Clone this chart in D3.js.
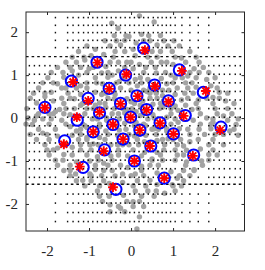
<!DOCTYPE html>
<html>
<head>
<meta charset="utf-8">
<script src="https://cdn.jsdelivr.net/npm/d3@7"></script>
<style>
  body { margin: 0; background: #fff; }
</style>
</head>
<body>
<svg id="chart" width="265" height="270"></svg>
<script>
// tick values
const xTicks = [-2, -1, 0, 1, 2];
const yTicks = [-2, -1, 0, 1, 2];

// constellation points (blue circles) and estimates (red stars)
const refPts = [
  [0.30, 1.63], [-0.81, 1.30], [1.15, 1.12], [-0.13, 1.00], [-1.42, 0.86], [0.56, 0.77],
  [1.72, 0.60], [-0.52, 0.69], [-1.02, 0.46], [0.14, 0.52], [0.89, 0.40], [-0.25, 0.34],
  [-2.05, 0.25], [-0.75, 0.12], [0.37, 0.20], [1.29, 0.06], [-1.28, -0.05], [-0.43, -0.15],
  [0.69, -0.11], [2.14, -0.21], [-0.01, 0.02], [0.21, -0.28], [1.01, -0.37], [-0.90, -0.32],
  [-1.58, -0.53], [-0.19, -0.49], [-0.63, -0.74], [0.47, -0.65], [0.08, -1.00], [1.49, -0.86],
  [-1.14, -1.15], [-0.36, -1.66], [0.79, -1.40]
];
const estPts = [
  [0.33, 1.58], [-0.80, 1.29], [1.21, 1.10], [-0.11, 1.02], [-1.38, 0.84], [0.57, 0.74],
  [1.78, 0.63], [-0.52, 0.68], [-1.02, 0.40], [0.16, 0.51], [0.89, 0.38], [-0.25, 0.33],
  [-2.05, 0.24], [-0.75, 0.14], [0.37, 0.19], [1.25, 0.05], [-1.29, 0.02], [-0.43, -0.15],
  [0.69, -0.12], [2.12, -0.28], [-0.01, 0.02], [0.21, -0.28], [1.01, -0.37], [-0.90, -0.32],
  [-1.60, -0.61], [-0.19, -0.49], [-0.65, -0.77], [0.45, -0.65], [0.08, -1.00], [1.47, -0.88],
  [-1.22, -1.13], [-0.43, -1.61], [0.79, -1.40]
];

// received samples (grey cloud), near each point
const samples = [
  [0.12, 1.75], [0.45, 1.80], [0.50, 1.55], [0.10, 1.45], [0.25, 1.95], [0.55, 2.24], [0.20, 2.38], [0.62, 1.70], [0.05, 1.60],
  [-0.46, 2.21], [-0.31, 2.09], [-0.15, 1.81], [-0.05, 1.90], [-0.25, 1.70],
  [-0.95, 1.45], [-0.65, 1.48], [-0.60, 1.20], [-1.00, 1.15], [-0.85, 1.60], [-0.70, 1.05], [-1.10, 1.35],
  [1.00, 1.25], [1.30, 1.30], [1.35, 0.98], [0.95, 1.00], [1.20, 1.40], [1.50, 1.15], [0.85, 1.30],
  [-0.30, 1.10], [0.05, 1.15], [0.10, 0.90], [-0.28, 0.85], [-0.10, 1.30], [0.20, 1.25], [-0.45, 1.00],
  [-1.60, 0.95], [-1.25, 1.00], [-1.20, 0.75], [-1.55, 0.70], [-1.75, 0.80], [-1.40, 1.10], [-1.90, 0.60],
  [0.40, 0.90], [0.72, 0.92], [0.75, 0.65], [0.38, 0.62], [0.60, 1.05], [0.85, 0.80],
  [1.55, 0.72], [1.90, 0.75], [1.95, 0.48], [1.60, 0.42], [2.10, 0.60], [1.80, 0.90], [2.25, 0.40],
  [-0.68, 0.80], [-0.35, 0.82], [-0.38, 0.55], [-0.70, 0.55], [-0.55, 0.95],
  [-1.20, 0.55], [-0.85, 0.60], [-0.85, 0.30], [-1.20, 0.30], [-1.35, 0.45], [-1.05, 0.70],
  [0.00, 0.65], [0.30, 0.65], [0.28, 0.40], [0.00, 0.38], [0.15, 0.75],
  [0.75, 0.52], [1.05, 0.55], [1.05, 0.28], [0.75, 0.25], [1.20, 0.42], [0.90, 0.65],
  [-0.40, 0.45], [-0.10, 0.45], [-0.10, 0.20], [-0.40, 0.22],
  [-2.25, 0.35], [-1.85, 0.40], [-1.85, 0.10], [-2.25, 0.05], [-2.45, 0.00], [-2.05, 0.50], [-2.35, -0.15], [-1.70, 0.20], [-2.30, -0.05],
  [-0.90, 0.22], [-0.60, 0.25], [-0.58, 0.00], [-0.92, -0.02], [-0.75, 0.35],
  [0.22, 0.30], [0.52, 0.32], [0.52, 0.08], [0.22, 0.06],
  [1.12, 0.18], [1.45, 0.20], [1.48, -0.05], [1.12, -0.10], [1.65, 0.10], [1.30, 0.30], [1.80, 0.00],
  [-1.45, 0.08], [-1.10, 0.10], [-1.10, -0.18], [-1.45, -0.20], [-1.65, -0.05], [-1.30, -0.30], [-1.80, 0.15],
  [-0.58, -0.05], [-0.28, -0.02], [-0.28, -0.28], [-0.60, -0.30],
  [0.55, 0.00], [0.85, 0.02], [0.85, -0.25], [0.55, -0.25],
  [1.95, -0.10], [2.30, -0.05], [2.35, -0.30], [2.00, -0.38], [2.50, -0.15], [2.20, 0.05], [2.55, -0.40], [1.90, -0.25],
  [-0.15, 0.12], [0.12, 0.15], [0.12, -0.10], [-0.15, -0.12],
  [0.08, -0.18], [0.35, -0.18], [0.35, -0.40], [0.08, -0.42],
  [0.88, -0.48], [1.15, -0.25], [1.18, -0.50], [0.85, -0.30], [1.25, -0.65],
  [-1.05, -0.22], [-0.75, -0.20], [-0.75, -0.45], [-1.05, -0.45], [-0.90, -0.60],
  [-1.75, -0.42], [-1.40, -0.40], [-1.40, -0.68], [-1.75, -0.70], [-1.95, -0.50], [-1.60, -0.85], [-2.10, -0.35],
  [-0.32, -0.40], [-0.05, -0.38], [-0.05, -0.62], [-0.32, -0.62],
  [-0.78, -0.62], [-0.48, -0.62], [-0.48, -0.88], [-0.80, -0.90], [-0.65, -1.05],
  [0.32, -0.55], [0.62, -0.52], [0.62, -0.80], [0.32, -0.80], [0.50, -0.95],
  [-0.08, -0.88], [0.25, -0.88], [0.25, -1.12], [-0.08, -1.15], [0.10, -1.30], [-0.20, -1.30],
  [1.32, -0.75], [1.65, -0.72], [1.68, -1.00], [1.32, -1.02], [1.85, -0.85], [1.50, -1.20], [1.40, -0.55],
  [-1.30, -1.02], [-0.98, -1.00], [-0.98, -1.30], [-1.32, -1.30], [-1.45, -1.10], [-1.15, -1.45], [-0.85, -1.20],
  [-0.52, -1.52], [-0.20, -1.50], [-0.18, -1.80], [-0.52, -1.82], [-0.50, -2.02], [-0.25, -2.10], [0.05, -1.95], [-0.38, -1.35],
  [0.62, -1.28], [0.95, -1.25], [0.98, -1.55], [0.62, -1.55], [0.80, -1.75], [1.10, -1.40], [0.45, -1.45],
  [0.30, -2.06], [0.14, -2.58], [0.20, -2.30]
];

// more received samples filling the spaces between points
const samplesFill = [
  [-0.40, 1.92], [-0.12, 1.92], [0.42, 1.92], [0.70, 1.92],
  [-0.62, 1.80], [-0.35, 1.80], [0.30, 1.80], [0.78, 1.80], [1.02, 1.80],
  [-1.05, 1.68], [-0.50, 1.68], [0.88, 1.68], [1.15, 1.68],
  [-1.25, 1.55], [-0.38, 1.55], [-0.15, 1.55], [0.70, 1.55], [0.98, 1.55], [1.40, 1.55],
  [-1.40, 1.42], [-1.12, 1.42], [-0.42, 1.42], [0.40, 1.42], [0.62, 1.42], [1.05, 1.42], [1.55, 1.42],
  [-1.55, 1.30], [-1.30, 1.30], [-0.50, 1.30], [-0.30, 1.30], [0.00, 1.30], [0.48, 1.30], [0.72, 1.30], [1.62, 1.30],
  [-1.75, 1.18], [-1.45, 1.18], [-1.20, 1.18], [-0.90, 1.18], [-0.15, 1.18], [0.35, 1.18], [0.58, 1.18], [1.72, 1.18],
  [-1.90, 1.06], [-1.62, 1.06], [-1.05, 1.06], [-0.55, 1.06], [0.30, 1.06], [0.82, 1.06], [1.40, 1.06], [1.62, 1.06], [1.85, 1.06],
  [-1.98, 0.94], [-0.85, 0.94], [-0.18, 0.94], [0.22, 0.94], [1.05, 0.94], [1.22, 0.94], [1.55, 0.94], [2.00, 0.94],
  [-2.10, 0.82], [-1.85, 0.82], [-1.05, 0.82], [-0.82, 0.82], [-0.05, 0.82], [0.25, 0.82], [1.00, 0.82], [1.30, 0.82], [1.45, 0.82],
  [-2.20, 0.70], [-1.65, 0.70], [-1.30, 0.70], [-0.25, 0.70], [0.45, 0.70], [1.10, 0.70], [1.35, 0.70], [2.05, 0.70],
  [-2.32, 0.58], [-2.05, 0.58], [-1.50, 0.58], [-0.60, 0.58], [0.45, 0.58], [0.60, 0.58], [1.28, 0.58], [1.48, 0.58], [2.30, 0.58],
  [-2.40, 0.46], [-1.65, 0.46], [-1.45, 0.46], [-0.55, 0.46], [0.45, 0.46], [0.62, 0.46], [1.35, 0.46], [1.80, 0.46], [2.10, 0.46],
  [-1.60, 0.34], [-1.15, 0.34], [-0.62, 0.34], [0.08, 0.34], [0.70, 0.34], [1.55, 0.34], [1.95, 0.34], [2.45, 0.34],
  [-2.48, 0.22], [-1.55, 0.22], [-1.35, 0.22], [-1.05, 0.22], [-0.20, 0.22], [0.02, 0.22], [0.68, 0.22], [0.95, 0.22], [1.60, 0.22], [2.00, 0.22], [2.30, 0.22],
  [-2.20, 0.10], [-1.95, 0.10], [-1.60, 0.10], [-0.45, 0.10], [-0.30, 0.10], [0.30, 0.10], [0.95, 0.10], [2.05, 0.10], [2.40, 0.10],
  [-2.10, -0.02], [-1.90, -0.02], [-0.80, -0.02], [0.40, -0.02], [1.05, -0.02], [1.95, -0.02], [2.55, -0.02],
  [-2.50, -0.14], [-1.95, -0.14], [-1.55, -0.14], [-1.15, -0.14], [-0.75, -0.14], [0.30, -0.14], [0.95, -0.14], [1.65, -0.14], [1.90, -0.14],
  [-2.20, -0.26], [-1.80, -0.26], [-1.20, -0.26], [-0.12, -0.26], [0.50, -0.26], [0.65, -0.26], [1.35, -0.26], [1.62, -0.26], [2.45, -0.26],
  [-2.40, -0.38], [-2.00, -0.38], [-1.20, -0.38], [-0.55, -0.38], [0.20, -0.38], [0.60, -0.38], [1.40, -0.38], [1.75, -0.38], [2.20, -0.38],
  [-2.25, -0.50], [-1.25, -0.50], [-1.05, -0.50], [-0.62, -0.50], [0.15, -0.50], [0.75, -0.50], [1.00, -0.50], [1.60, -0.50], [1.95, -0.50],
  [-2.05, -0.62], [-1.20, -0.62], [-0.98, -0.62], [-0.20, -0.62], [0.18, -0.62], [0.80, -0.62], [1.10, -0.62], [1.85, -0.62], [2.20, -0.62],
  [-2.00, -0.74], [-1.85, -0.74], [-1.20, -0.74], [-0.95, -0.74], [-0.30, -0.74], [0.05, -0.74], [0.78, -0.74], [1.05, -0.74], [1.95, -0.74],
  [-1.95, -0.86], [-1.40, -0.86], [-1.05, -0.86], [-0.30, -0.86], [0.70, -0.86], [1.10, -0.86], [1.25, -0.86], [2.05, -0.86],
  [-1.80, -0.98], [-1.62, -0.98], [-0.78, -0.98], [-0.45, -0.98], [0.50, -0.98], [0.75, -0.98], [1.05, -0.98], [1.85, -0.98],
  [-1.75, -1.10], [-0.85, -1.10], [-0.55, -1.10], [-0.25, -1.10], [0.45, -1.10], [0.65, -1.10], [1.30, -1.10], [1.70, -1.10],
  [-1.60, -1.22], [-1.45, -1.22], [-0.65, -1.22], [-0.45, -1.22], [0.25, -1.22], [1.25, -1.22], [1.50, -1.22],
  [-1.45, -1.34], [-0.95, -1.34], [-0.70, -1.34], [0.00, -1.34], [0.30, -1.34], [1.15, -1.34], [1.40, -1.34],
  [-1.30, -1.46], [-0.95, -1.46], [-0.65, -1.46], [0.15, -1.46], [1.25, -1.46],
  [-1.10, -1.58], [-0.75, -1.58], [0.05, -1.58], [0.35, -1.58], [1.00, -1.58], [1.20, -1.58],
  [-0.80, -1.70], [0.10, -1.70], [0.40, -1.70], [0.60, -1.70], [1.05, -1.70],
  [-0.75, -1.82], [0.25, -1.82], [0.55, -1.82],
  [-0.68, -1.94], [-0.10, -1.94], [0.20, -1.94],
  [-0.30, -2.06], [0.05, -2.06],
  [-0.50, -2.18], [-0.15, -2.18]
];

// black dot grid: columns and rows
const colsInner = [-1.80, -1.51, -1.38, -1.25, -1.13, -1.02, -0.91, -0.80, -0.69, -0.58, -0.47, -0.36,
  -0.25, -0.14, -0.03, 0.08, 0.19, 0.30, 0.41, 0.53, 0.64, 0.74, 0.84, 0.94, 1.05, 1.21, 1.40, 1.60, 1.85];
const colsOuter = [-2.42, -2.30, -2.18, -2.05, -1.93, 1.97, 2.10, 2.22, 2.35, 2.48, 2.60];
const rowsOuter = [2.34, 2.16, 1.99, 1.81, 1.64, -1.77, -1.98, -2.20, -2.41];
const rowsBand = [1.22, 1.02, 0.82, 0.62, 0.42, 0.22, 0.02, -0.18, -0.38, -0.58, -0.78, -0.98, -1.18, -1.38];
const dashRows = [1.43, -1.54];

const W = 265, H = 270;
const margin = { top: 12, right: 20.5, bottom: 39, left: 26 };
const serif = '"Liberation Serif", "Times New Roman", "DejaVu Serif", serif';

const svg = d3.select('#chart');

const x = d3.scaleLinear().domain([-2.5, 2.7]).range([margin.left, W - margin.right]);
const y = d3.scaleLinear().domain([-2.63, 2.47]).range([H - margin.bottom, margin.top]);

// grid points
const gridPts = [];
colsInner.forEach(c => rowsOuter.concat(rowsBand).forEach(r => gridPts.push([c, r])));
colsOuter.forEach(c => rowsBand.forEach(r => gridPts.push([c, r])));

// grey samples
svg.append('g')
  .selectAll('circle')
  .data(samples.concat(samplesFill))
  .join('circle')
  .attr('cx', d => x(d[0]))
  .attr('cy', d => y(d[1]))
  .attr('r', 2.7)
  .attr('fill', '#a3a3a3');

svg.append('g')
  .selectAll('rect')
  .data(gridPts)
  .join('rect')
  .attr('x', d => x(d[0]) - 0.7)
  .attr('y', d => y(d[1]) - 0.8)
  .attr('width', 1.4)
  .attr('height', 1.6)
  .attr('fill', '#111');

svg.append('g')
  .selectAll('line')
  .data(dashRows)
  .join('line')
  .attr('x1', x(-2.5))
  .attr('x2', x(2.7))
  .attr('y1', d => y(d))
  .attr('y2', d => y(d))
  .attr('stroke', '#111')
  .attr('stroke-width', 1.4)
  .attr('stroke-dasharray', '2.6,3');

// blue circles
svg.append('g')
  .selectAll('circle')
  .data(refPts)
  .join('circle')
  .attr('cx', d => x(d[0]))
  .attr('cy', d => y(d[1]))
  .attr('r', 5.6)
  .attr('fill', 'none')
  .attr('stroke', '#0000ff')
  .attr('stroke-width', 2);

// red asterisks
const star = 'M-4.9,0L4.9,0M0,-4.9L0,4.9M-3.5,-3.5L3.5,3.5M-3.5,3.5L3.5,-3.5';
svg.append('g')
  .selectAll('path')
  .data(estPts)
  .join('path')
  .attr('transform', d => `translate(${x(d[0])},${y(d[1])})`)
  .attr('d', star)
  .attr('fill', 'none')
  .attr('stroke', '#ff0000')
  .attr('stroke-width', 1.9);

// axes, ticks pointing inward
const axisColor = '#262626';
const x0 = x.range()[0], x1 = x.range()[1], y0 = y.range()[0], y1 = y.range()[1];

const styleAxis = g => {
  g.attr('font-family', serif).attr('font-size', 15);
  g.select('.domain').remove();
  g.selectAll('.tick line').attr('stroke', axisColor);
  g.selectAll('.tick text').attr('fill', axisColor);
};

svg.append('g')
  .attr('transform', `translate(0,${y0})`)
  .call(d3.axisBottom(x).tickValues(xTicks).tickSizeInner(-3).tickSizeOuter(0).tickPadding(14)
    .tickFormat(d => d < 0 ? '-' + Math.abs(d) : d))
  .call(styleAxis);

svg.append('g')
  .attr('transform', `translate(0,${y1})`)
  .call(d3.axisTop(x).tickValues(xTicks).tickSizeInner(-3).tickSizeOuter(0).tickFormat(''))
  .call(styleAxis);

svg.append('g')
  .attr('transform', `translate(${x0},0)`)
  .call(d3.axisLeft(y).tickValues(yTicks).tickSizeInner(-3).tickSizeOuter(0).tickPadding(8)
    .tickFormat(d => d < 0 ? '-' + Math.abs(d) : d))
  .call(styleAxis);

svg.append('g')
  .attr('transform', `translate(${x1},0)`)
  .call(d3.axisRight(y).tickValues(yTicks).tickSizeInner(-3).tickSizeOuter(0).tickFormat(''))
  .call(styleAxis);

svg.append('rect')
  .attr('x', x0)
  .attr('y', y1)
  .attr('width', x1 - x0)
  .attr('height', y0 - y1)
  .attr('fill', 'none')
  .attr('stroke', axisColor)
  .attr('stroke-width', 1);
</script>
</body>
</html>
